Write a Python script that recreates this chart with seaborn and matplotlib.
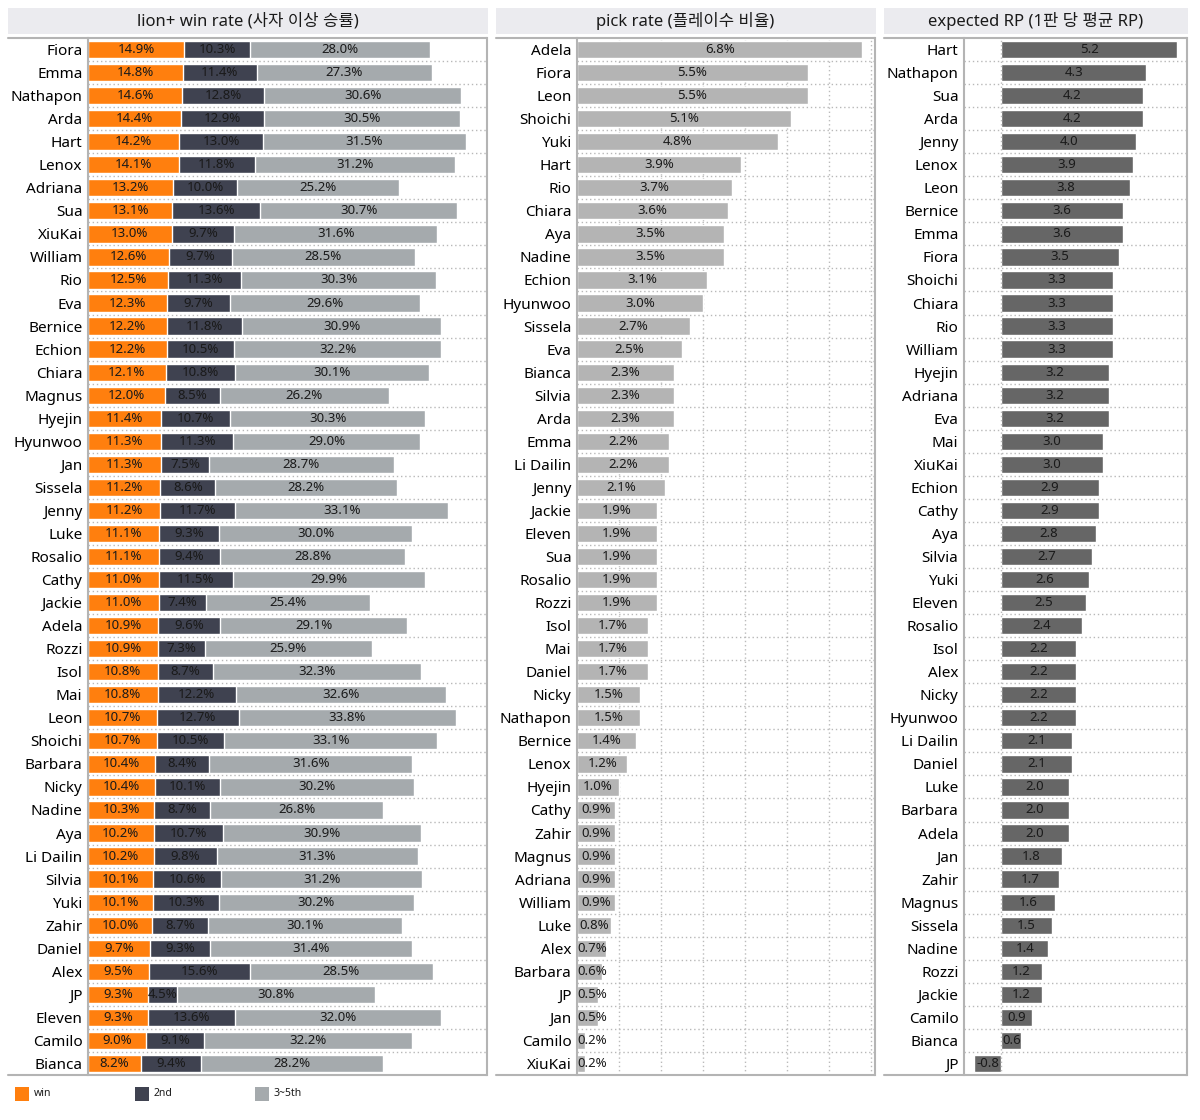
import matplotlib
matplotlib.use("Agg")
import matplotlib.pyplot as plt
from matplotlib.patches import Rectangle
from matplotlib.lines import Line2D
import seaborn as sns
import pandas as pd

sns.set_style("white")
plt.rcParams['font.family'] = ['Noto Sans', 'Noto Sans CJK KR', 'DejaVu Sans']

# ---- data ----
win_names = ["Fiora", "Emma", "Nathapon", "Arda", "Hart", "Lenox", "Adriana", "Sua", "XiuKai",
             "William", "Rio", "Eva", "Bernice", "Echion", "Chiara", "Magnus", "Hyejin", "Hyunwoo",
             "Jan", "Sissela", "Jenny", "Luke", "Rosalio", "Cathy", "Jackie", "Adela", "Rozzi",
             "Isol", "Mai", "Leon", "Shoichi", "Barbara", "Nicky", "Nadine", "Aya", "Li Dailin",
             "Silvia", "Yuki", "Zahir", "Daniel", "Alex", "JP", "Eleven", "Camilo", "Bianca"]
win = [14.9, 14.8, 14.6, 14.4, 14.2, 14.1, 13.2, 13.1, 13.0, 12.6, 12.5, 12.3, 12.2, 12.2, 12.1,
       12.0, 11.4, 11.3, 11.3, 11.2, 11.2, 11.1, 11.1, 11.0, 11.0, 10.9, 10.9, 10.8, 10.8, 10.7,
       10.7, 10.4, 10.4, 10.3, 10.2, 10.2, 10.1, 10.1, 10.0, 9.7, 9.5, 9.3, 9.3, 9.0, 8.2]
second = [10.3, 11.4, 12.8, 12.9, 13.0, 11.8, 10.0, 13.6, 9.7, 9.7, 11.3, 9.7, 11.8, 10.5, 10.8,
          8.5, 10.7, 11.3, 7.5, 8.6, 11.7, 9.3, 9.4, 11.5, 7.4, 9.6, 7.3, 8.7, 12.2, 12.7,
          10.5, 8.4, 10.1, 8.7, 10.7, 9.8, 10.6, 10.3, 8.7, 9.3, 15.6, 4.5, 13.6, 9.1, 9.4]
third_fifth = [28.0, 27.3, 30.6, 30.5, 31.5, 31.2, 25.2, 30.7, 31.6, 28.5, 30.3, 29.6, 30.9, 32.2,
               30.1, 26.2, 30.3, 29.0, 28.7, 28.2, 33.1, 30.0, 28.8, 29.9, 25.4, 29.1, 25.9, 32.3,
               32.6, 33.8, 33.1, 31.6, 30.2, 26.8, 30.9, 31.3, 31.2, 30.2, 30.1, 31.4, 28.5, 30.8,
               32.0, 32.2, 28.2]

pick_names = ["Adela", "Fiora", "Leon", "Shoichi", "Yuki", "Hart", "Rio", "Chiara", "Aya", "Nadine",
              "Echion", "Hyunwoo", "Sissela", "Eva", "Bianca", "Silvia", "Arda", "Emma", "Li Dailin",
              "Jenny", "Jackie", "Eleven", "Sua", "Rosalio", "Rozzi", "Isol", "Mai", "Daniel", "Nicky",
              "Nathapon", "Bernice", "Lenox", "Hyejin", "Cathy", "Zahir", "Magnus", "Adriana",
              "William", "Luke", "Alex", "Barbara", "JP", "Jan", "Camilo", "XiuKai"]
pick_rate = [6.8, 5.5, 5.5, 5.1, 4.8, 3.9, 3.7, 3.6, 3.5, 3.5, 3.1, 3.0, 2.7, 2.5, 2.3, 2.3, 2.3,
             2.2, 2.2, 2.1, 1.9, 1.9, 1.9, 1.9, 1.9, 1.7, 1.7, 1.7, 1.5, 1.5, 1.4, 1.2, 1.0, 0.9,
             0.9, 0.9, 0.9, 0.9, 0.8, 0.7, 0.6, 0.5, 0.5, 0.2, 0.2]

rp_names = ["Hart", "Nathapon", "Sua", "Arda", "Jenny", "Lenox", "Leon", "Bernice", "Emma", "Fiora",
            "Shoichi", "Chiara", "Rio", "William", "Hyejin", "Adriana", "Eva", "Mai", "XiuKai",
            "Echion", "Cathy", "Aya", "Silvia", "Yuki", "Eleven", "Rosalio", "Isol", "Alex", "Nicky",
            "Hyunwoo", "Li Dailin", "Daniel", "Luke", "Barbara", "Adela", "Jan", "Zahir", "Magnus",
            "Sissela", "Nadine", "Rozzi", "Jackie", "Camilo", "Bianca", "JP"]
expected_rp = [5.2, 4.3, 4.2, 4.2, 4.0, 3.9, 3.8, 3.6, 3.6, 3.5, 3.3, 3.3, 3.3, 3.3, 3.2, 3.2, 3.2,
               3.0, 3.0, 2.9, 2.9, 2.8, 2.7, 2.6, 2.5, 2.4, 2.2, 2.2, 2.2, 2.2, 2.1, 2.1, 2.0, 2.0,
               2.0, 1.8, 1.7, 1.6, 1.5, 1.4, 1.2, 1.2, 0.9, 0.6, -0.8]

titles = ["lion+ win rate (사자 이상 승률)", "pick rate (플레이수 비율)", "expected RP (1판 당 평균 RP)"]
legend_labels = ["win", "2nd", "3~5th"]

# ---- style ----
C_WIN, C_2ND, C_345 = '#ff7f0e', '#3f4250', '#a5aaad'
C_PICK, C_RP = '#b4b4b4', '#666666'
BORDER = '#b4b4b4'
DOT = (0, (1, 2))
TXT = '#1a1a1a'
W, H = 1200, 1120

def fx(px):
    return px / W

def fy(py):
    return 1 - py / H

fig = plt.figure(figsize=(12, 11.2), dpi=100)

# (box left, axes left, axes right) in pixels
panels = [(8, 88, 487), (496, 577, 875), (884, 964, 1187)]
TOP, BOT = 38, 1075
axes = []
for (bl, al, ar), title in zip(panels, titles):
    ax = fig.add_axes([fx(al), fy(BOT), (ar - al) / W, (BOT - TOP) / H])
    axes.append(ax)
    fig.add_artist(Rectangle((fx(bl), fy(34)), (ar + 1 - bl) / W, 26 / H,
                             transform=fig.transFigure, facecolor='#ebebef', edgecolor='none'))
    fig.text(fx((bl + ar) / 2), fy(21), title, ha='center', va='center', fontsize=12,
             fontweight='medium', color=TXT)
    for y in (TOP, BOT):
        fig.add_artist(Line2D([fx(bl), fx(ar)], [fy(y), fy(y)], transform=fig.transFigure,
                              color=BORDER, lw=1.5))

# ---- panel 1: stacked win rate ----
ax = axes[0]
df1 = pd.DataFrame({'name': win_names, 'win': win, 'second': second, 'rest': third_fifth})
df1['c2'] = df1['win'] + df1['second']
df1['c3'] = df1['c2'] + df1['rest']
for col, color in [('c3', C_345), ('c2', C_2ND), ('win', C_WIN)]:
    sns.barplot(data=df1, x=col, y='name', color=color, width=0.75, saturation=1,
                errorbar=None, ax=ax)
for i, r in df1.iterrows():
    ax.text(r['win'] / 2, i, f"{r['win']:.1f}%", ha='center', va='center', fontsize=9.5, color=TXT)
    ax.text(r['win'] + r['second'] / 2, i, f"{r['second']:.1f}%", ha='center', va='center',
            fontsize=9.5, color=TXT)
    ax.text(r['c2'] + r['rest'] / 2, i, f"{r['rest']:.1f}%", ha='center', va='center',
            fontsize=9.5, color=TXT)
ax.set_xlim(0, 62)

# ---- panel 2: pick rate ----
ax = axes[1]
df2 = pd.DataFrame({'name': pick_names, 'pick': pick_rate})
sns.barplot(data=df2, x='pick', y='name', color=C_PICK, width=0.75, saturation=1,
            errorbar=None, ax=ax)
for v in range(1, 8):
    ax.axvline(v, color='#bbbbbb', lw=1, ls=DOT, zorder=0)
for i, v in enumerate(pick_rate):
    if v < 0.8:
        ax.text(0.02, i, f"{v:.1f}%", ha='left', va='center', fontsize=9.5, color=TXT)
    else:
        ax.text(v / 2, i, f"{v:.1f}%", ha='center', va='center', fontsize=9.5, color=TXT)
ax.set_xlim(0, 7.1)

# ---- panel 3: expected RP ----
ax = axes[2]
df3 = pd.DataFrame({'name': rp_names, 'rp': expected_rp})
sns.barplot(data=df3, x='rp', y='name', color=C_RP, width=0.75, saturation=1,
            errorbar=None, ax=ax)
ax.axvline(0, color='#bbbbbb', lw=1, ls=DOT, zorder=3)
for i, v in enumerate(expected_rp):
    ax.text(v / 2, i, f"{v:.1f}", ha='center', va='center', fontsize=9.5, color=TXT)
ax.set_xlim(-1.1, 5.5)

# ---- common axes styling ----
for ax in axes:
    ax.set_ylim(44.5, -0.5)
    ax.set_xlabel('')
    ax.set_ylabel('')
    ax.set_xticks([])
    ax.tick_params(axis='y', length=0, labelsize=11, pad=4, labelcolor='black')
    for i in range(44):
        ax.axhline(i + 0.5, color='#b8b8b8', lw=1, ls=DOT, zorder=0)
    ax.spines['top'].set_visible(False)
    ax.spines['bottom'].set_visible(False)
    for s in ('left', 'right'):
        ax.spines[s].set_color(BORDER)
        ax.spines[s].set_linewidth(1.5)

# ---- legend ----
for x, label, color in zip([15, 135, 255], legend_labels, [C_WIN, C_2ND, C_345]):
    fig.add_artist(Rectangle((fx(x), fy(1101)), 14 / W, 14 / H, transform=fig.transFigure,
                             facecolor=color, edgecolor='none'))
    fig.text(fx(x + 19), fy(1094), label, ha='left', va='center', fontsize=7.5, color=TXT)

fig.savefig('out.png', dpi=100)
plt.close()
